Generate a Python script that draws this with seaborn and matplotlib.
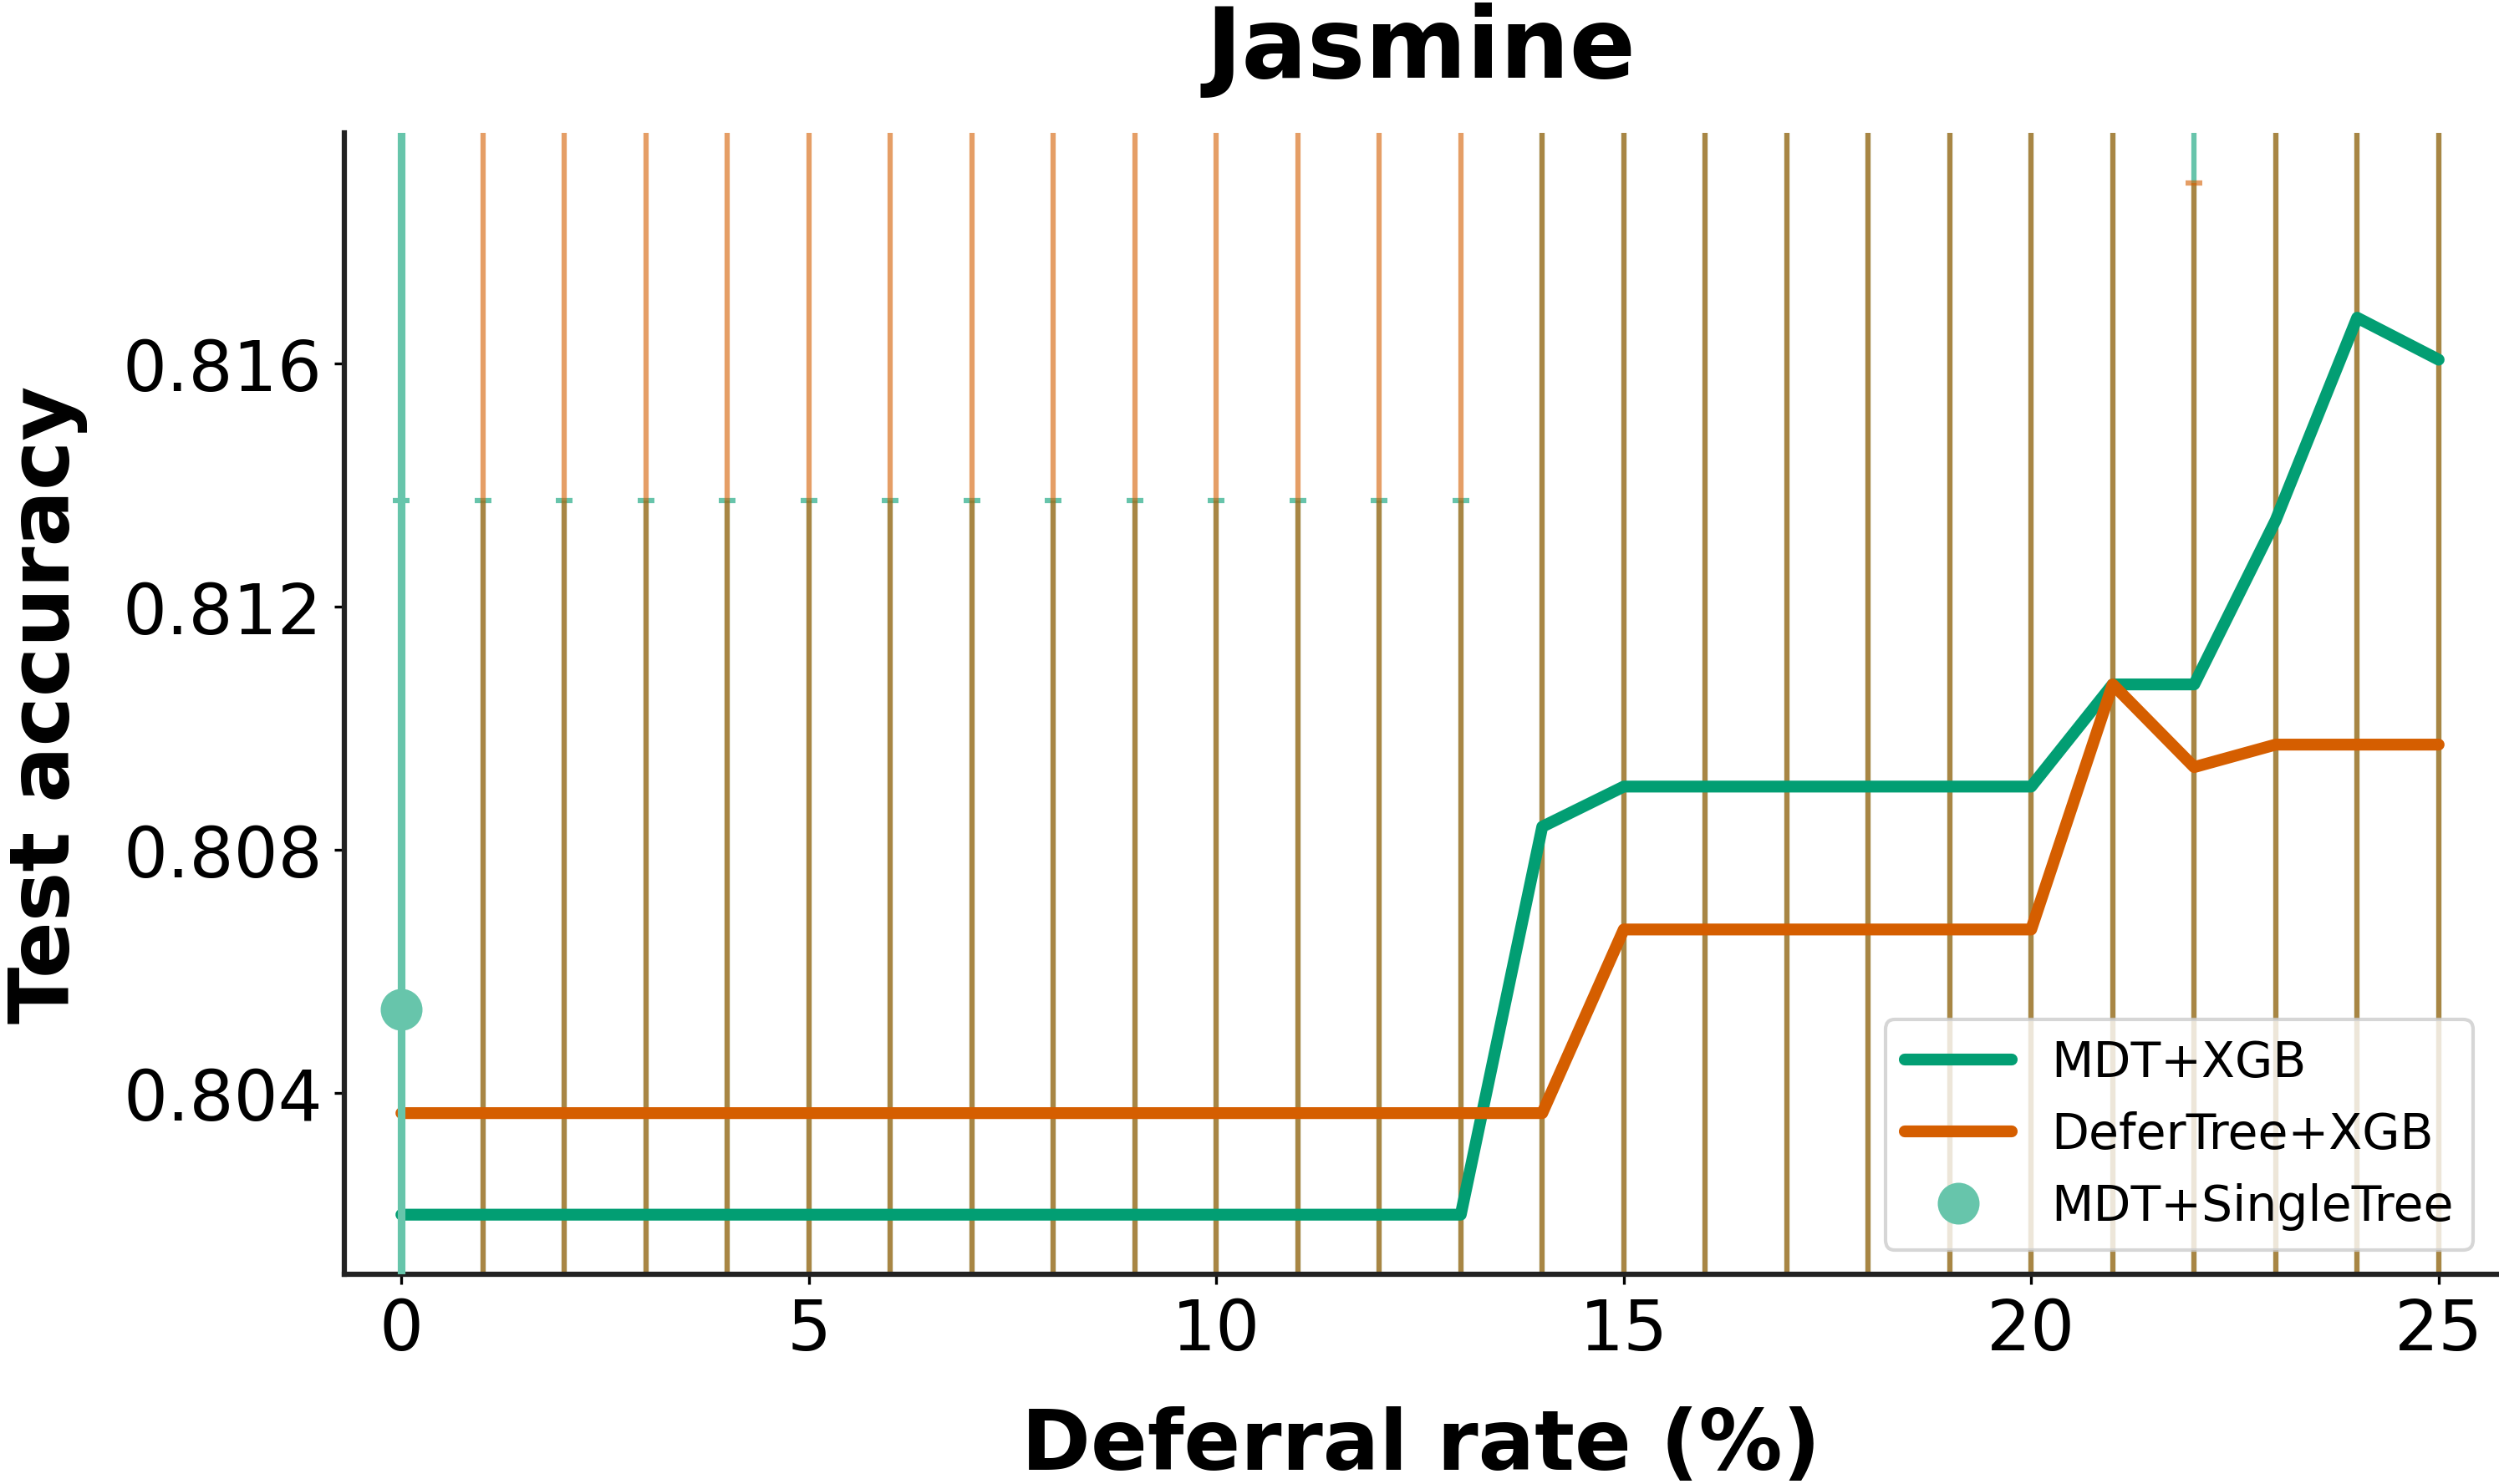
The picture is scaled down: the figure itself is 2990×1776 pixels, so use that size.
import numpy as np
import pandas as pd
import matplotlib
matplotlib.use("Agg")
import matplotlib.pyplot as plt
from matplotlib.lines import Line2D
import seaborn as sns

# ---------------- data ----------------
deferral_rate = list(range(26))

mdt_xgb_acc = [0.8020] * 14 + [0.80838] + [0.80904] * 6 + [0.81072, 0.81072, 0.81342, 0.81675, 0.81606]
mdt_xgb_err = [0.01174] * 14 + [0.020] * 8 + [0.012] + [0.020] * 3

defertree_xgb_acc = [0.80367] * 15 + [0.80669] * 6 + [0.81072, 0.80936, 0.80973, 0.80973, 0.80973]
defertree_xgb_err = [0.020] * 22 + [0.0096] + [0.020] * 3

single_tree_x = [0]
single_tree_acc = [0.80538]
single_tree_err = [0.020]

methods = ["MDT+XGB", "DeferTree+XGB", "MDT+SingleTree"]
x_ticks = [0, 5, 10, 15, 20, 25]
y_ticks = [0.804, 0.808, 0.812, 0.816]

# ---------------- style ----------------
sns.set_theme(style="ticks")
plt.rcParams["font.family"] = ["DejaVu Sans"]
plt.rcParams["text.color"] = "black"
plt.rcParams["axes.labelcolor"] = "black"

green = "#029E73"
orange = "#D55E00"
light_green = "#67C5AB"

fig = plt.figure(figsize=(2990 / 300, 1777 / 300), dpi=300)
ax = fig.add_axes([412 / 2990, 1 - 1526 / 1777, (2988 - 412) / 2990, (1526 - 160) / 1777])

# error bars
ax.errorbar(deferral_rate, mdt_xgb_acc, yerr=mdt_xgb_err, fmt="none",
            ecolor=green, alpha=0.6, elinewidth=1.5, capsize=2.5, capthick=1.5, zorder=2)
ax.errorbar(deferral_rate, defertree_xgb_acc, yerr=defertree_xgb_err, fmt="none",
            ecolor=orange, alpha=0.6, elinewidth=1.5, capsize=2.5, capthick=1.5, zorder=2.1)

# main lines
df = pd.DataFrame({
    "x": deferral_rate * 2,
    "acc": mdt_xgb_acc + defertree_xgb_acc,
    "method": [methods[0]] * len(deferral_rate) + [methods[1]] * len(deferral_rate),
})
sns.lineplot(data=df, x="x", y="acc", hue="method", palette=[green, orange],
             linewidth=3.4, ax=ax, legend=False, zorder=4)

# single tree point
ax.errorbar(single_tree_x, single_tree_acc, yerr=single_tree_err, fmt="o",
            color=light_green, ecolor=light_green, markersize=11, elinewidth=2.2,
            capsize=0, zorder=5)

ax.set_xlim(-0.70, 25.72)
ax.set_ylim(0.80102, 0.81979)
ax.set_xticks(x_ticks)
ax.set_yticks(y_ticks)
ax.set_yticklabels([f"{v:.3f}" for v in y_ticks])

for side in ["top", "right"]:
    ax.spines[side].set_visible(False)
for side in ["left", "bottom"]:
    ax.spines[side].set_linewidth(1.5)
    ax.spines[side].set_color("#222222")

ax.tick_params(axis="both", labelsize=20, width=0.8, length=2.8, color="black",
               labelcolor="black", pad=3.5)

ax.set_title("Jasmine", fontsize=28, fontweight="bold", pad=16, color="black")
ax.set_xlabel("Deferral rate (%)", fontsize=24, fontweight="bold", labelpad=12, color="black")
ax.set_ylabel("Test accuracy", fontsize=24, fontweight="bold", labelpad=10, color="black")

handles = [
    Line2D([0], [0], color=green, lw=3.4),
    Line2D([0], [0], color=orange, lw=3.4),
    Line2D([0], [0], color=light_green, lw=0, marker="o", markersize=11),
]
leg = ax.legend(handles, methods, loc="lower right", fontsize=14, handlelength=2.2,
                frameon=True)
for t in leg.get_texts():
    t.set_color("black")

fig.savefig("out.png", dpi=300)
